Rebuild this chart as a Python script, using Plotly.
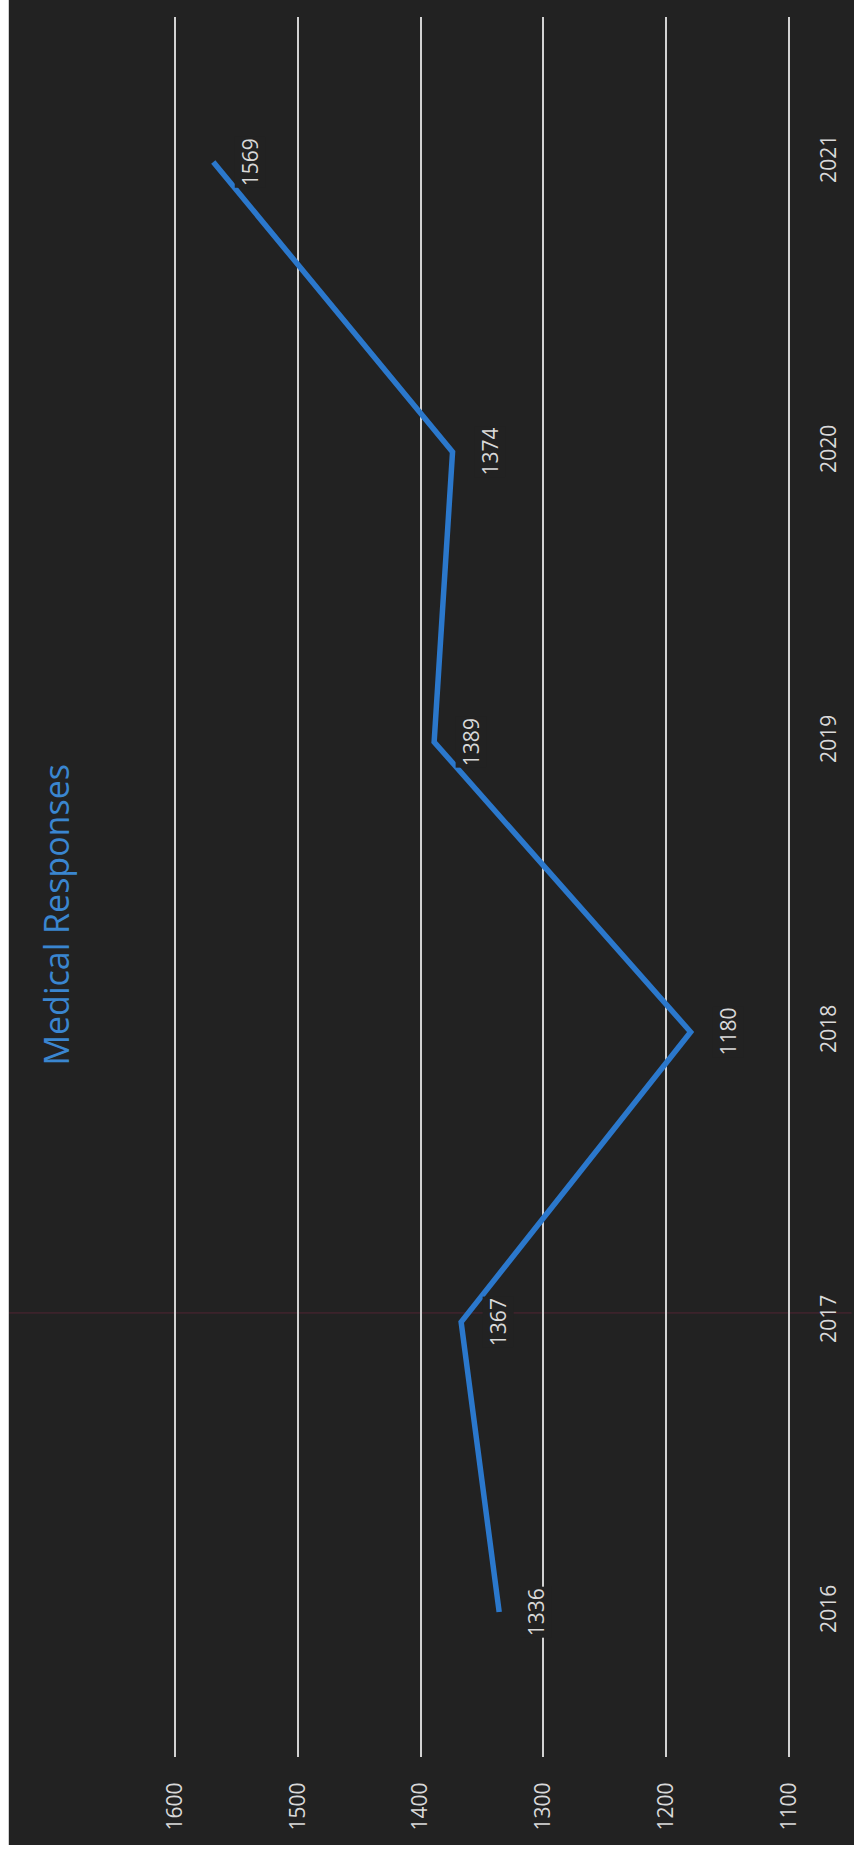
import plotly.graph_objects as go

# ---- data ----
years = ["2016", "2017", "2018", "2019", "2020", "2021"]
responses = [1336, 1367, 1180, 1389, 1374, 1569]
value_ticks = [1100, 1200, 1300, 1400, 1500, 1600]
value_tick_labels = ["1100", "1200", "1300", "1400", "1500", "1600"]
title_text = "Medical Responses"

BG = "#222222"
LINE = "#2B78CC"
TXT = "#d9d9d9"
FONT = "Open Sans"

fig = go.Figure()
fig.add_trace(go.Scatter(
    x=responses, y=years, mode="lines",
    line=dict(color=LINE, width=5.5),
    hoverinfo="skip", showlegend=False,
))

# data labels (rotated like the rest of the chart); category axes take
# the serial number of the category for annotation positions
for i, v in enumerate(responses):
    fig.add_annotation(
        x=v, y=i, xref="x", yref="y", text=str(v),
        showarrow=False, textangle=-90, xshift=37,
        xanchor="center", yanchor="middle",
        font=dict(family=FONT, size=21, color=TXT),
        bgcolor=BG,
    )

# title
fig.add_annotation(
    x=-0.192, y=0.484, xref="paper", yref="paper", text=title_text,
    showarrow=False, textangle=-90, xanchor="center", yanchor="middle",
    font=dict(family=FONT, size=34, color="#3A86D0"),
)

# white scan borders + faint red scan line
fig.add_shape(type="rect", xref="paper", yref="paper",
              x0=-0.3, x1=-0.2682, y0=-0.06, y1=1.02,
              fillcolor="white", line_width=0, layer="above")
fig.add_shape(type="rect", xref="paper", yref="paper",
              x0=-0.3, x1=1.2, y0=-0.06, y1=-0.0506,
              fillcolor="white", line_width=0, layer="above")
fig.add_shape(type="line", xref="paper", yref="paper",
              x0=-0.2682, x1=1.1, y0=0.2552, y1=0.2552,
              line=dict(color="rgba(140,40,70,0.45)", width=1), layer="below")

fig.update_layout(
    width=854, height=1853,
    margin=dict(l=174, r=61, t=17, b=96),
    paper_bgcolor=BG, plot_bgcolor=BG,
    showlegend=False,
    xaxis=dict(
        range=[1601, 1099], tickvals=value_ticks, ticktext=value_tick_labels,
        tickangle=-90, showgrid=True, gridcolor="#d2d2d2", gridwidth=1.5,
        zeroline=False, showline=False,
        ticks="outside", ticklen=16, tickcolor="rgba(0,0,0,0)",
        tickfont=dict(family=FONT, size=21, color=TXT),
    ),
    yaxis=dict(
        type="category", categoryorder="array", categoryarray=years,
        range=[-0.5, len(years) - 0.5],
        side="right", tickangle=-90, showgrid=False, zeroline=False,
        showline=False, ticks="outside", ticklen=20,
        tickcolor="rgba(0,0,0,0)",
        tickfont=dict(family=FONT, size=21, color=TXT),
    ),
)

fig.write_html("out.html")
